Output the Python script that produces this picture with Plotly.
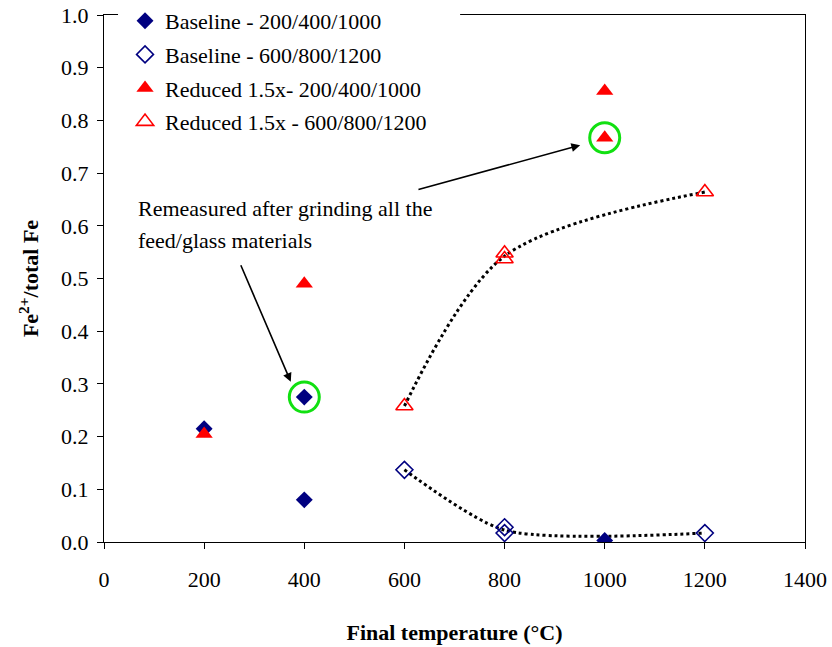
import plotly.graph_objects as go
import numpy as np

# Fe2+/total Fe ratio versus final heat-treatment temperature
base_a_x = [200, 400, 400, 1000]
base_a_y = [0.215, 0.275, 0.080, 0.003]
base_b_x = [600, 800, 800, 1200]
base_b_y = [0.137, 0.028, 0.017, 0.017]
red_a_x = [200, 400, 1000, 1000]
red_a_y = [0.205, 0.490, 0.856, 0.767]
red_b_x = [600, 800, 800, 1200]
red_b_y = [0.258, 0.548, 0.537, 0.664]

names = ["Baseline - 200/400/1000", "Baseline - 600/800/1200",
         "Reduced 1.5x- 200/400/1000", "Reduced 1.5x - 600/800/1200"]

# remeasured points highlighted with circles
remeasured_x = [400, 1000]
remeasured_y = [0.275, 0.767]

FONT = "Liberation Serif"
FS = 22
NAVY = "#000080"
RED = "#FF0000"
GREEN = "#11E011"


def mean_by_x(xs, ys):
    ux = sorted(set(xs))
    return ux, [float(np.mean([y for x, y in zip(xs, ys) if x == u])) for u in ux]


fig = go.Figure()

# smoothed dotted guide lines through the 600/800/1200 series
for xs, ys, sm in [(base_b_x, base_b_y, 0.7), (red_b_x, red_b_y, 0.9)]:
    mx, my = mean_by_x(xs, ys)
    fig.add_trace(go.Scatter(x=mx, y=my, mode="lines", showlegend=False,
                             line=dict(color="black", width=3, dash="dot",
                                       shape="spline", smoothing=sm),
                             hoverinfo="skip"))

fig.add_trace(go.Scatter(x=base_a_x, y=base_a_y, mode="markers", name=names[0],
                         legendgroup="a",
                         marker=dict(symbol="diamond", size=13, color=NAVY)))
fig.add_trace(go.Scatter(x=base_b_x, y=base_b_y, mode="markers", name=names[1],
                         legendgroup="b",
                         marker=dict(symbol="diamond-open", size=13, color=NAVY,
                                     line=dict(width=1.6, color=NAVY))))
fig.add_trace(go.Scatter(x=red_a_x, y=red_a_y, mode="markers", name=names[2],
                         legendgroup="c",
                         marker=dict(symbol="triangle-up", size=15, color=RED)))
fig.add_trace(go.Scatter(x=red_b_x, y=red_b_y, mode="markers", name=names[3],
                         legendgroup="d",
                         marker=dict(symbol="triangle-up-open", size=15, color=RED,
                                     line=dict(width=1.6, color=RED))))

for cx, cy in zip(remeasured_x, remeasured_y):
    fig.add_shape(type="circle", xref="x", yref="y", xsizemode="pixel",
                  ysizemode="pixel", xanchor=cx, yanchor=cy,
                  x0=-15, x1=15, y0=-15, y1=15,
                  line=dict(color=GREEN, width=3))

# white legend backing that interrupts the top frame line
fig.add_shape(type="rect", xref="paper", yref="paper", layer="above",
              x0=0.02, x1=0.508, y0=0.99, y1=1.012,
              fillcolor="white", line=dict(width=0))

annotations = [
    dict(x=64, y=0.632, xref="x", yref="y", xanchor="left", yanchor="middle",
         text="Remeasured after grinding all the", showarrow=False),
    dict(x=64, y=0.573, xref="x", yref="y", xanchor="left", yanchor="middle",
         text="feed/glass materials", showarrow=False),
    dict(x=373, y=0.304, ax=272, ay=0.528, xref="x", yref="y", axref="x",
         ayref="y", text="", showarrow=True, arrowhead=2, arrowsize=1.1,
         arrowwidth=1.6, arrowcolor="black"),
    dict(x=951, y=0.753, ax=625, ay=0.668, xref="x", yref="y", axref="x",
         ayref="y", text="", showarrow=True, arrowhead=2, arrowsize=1.1,
         arrowwidth=1.6, arrowcolor="black"),
]
for a in annotations:
    a["font"] = dict(family=FONT, size=FS, color="black")

fig.update_layout(
    width=832, height=647,
    margin=dict(l=104, r=27, t=15, b=105, autoexpand=False),
    paper_bgcolor="white", plot_bgcolor="white",
    font=dict(family=FONT, size=FS, color="black"),
    annotations=annotations,
    showlegend=True,
    legend=dict(x=0.03, xref="paper", y=1.0, yref="container",
                xanchor="left", yanchor="top",
                bgcolor="white", borderwidth=0, tracegroupgap=2,
                font=dict(family=FONT, size=FS, color="black")),
)
fig.update_xaxes(range=[0, 1400], tickvals=list(range(0, 1401, 200)),
                 showgrid=False, zeroline=False, showline=True,
                 linecolor="black", linewidth=1, mirror=True,
                 ticks="outside", ticklen=6, tickcolor="black",
                 ticklabelstandoff=12, automargin=False,
                 tickfont=dict(family=FONT, size=FS),
                 title=dict(text="<b>Final temperature (°C)</b>", standoff=33,
                            font=dict(family=FONT, size=FS)))
fig.update_yaxes(range=[0, 1.0], tickvals=[i / 10 for i in range(11)],
                 tickformat=".1f",
                 showgrid=False, zeroline=False, showline=True,
                 linecolor="black", linewidth=1, mirror=True,
                 ticks="outside", ticklen=6, tickcolor="black",
                 ticklabelstandoff=4, automargin=False,
                 tickfont=dict(family=FONT, size=FS),
                 title=dict(text="<b>Fe<sup>2+</sup>/total Fe</b>", standoff=16,
                            font=dict(family=FONT, size=FS)))

fig.write_html("out.html")
